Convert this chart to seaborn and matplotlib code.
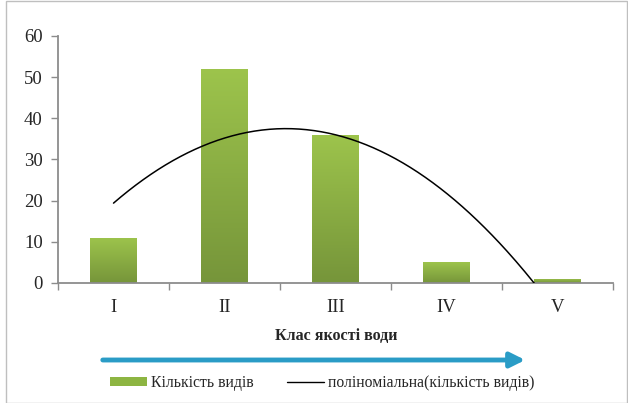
import numpy as np
import pandas as pd
import matplotlib
matplotlib.use("Agg")
import matplotlib.pyplot as plt
from matplotlib.lines import Line2D
from matplotlib.patches import Patch, Rectangle, FancyArrowPatch
from matplotlib.colors import LinearSegmentedColormap
import seaborn as sns

# Data
classes = ["I", "II", "III", "IV", "V"]
species_count = [11, 52, 36, 5, 1]

df = pd.DataFrame({"class": classes, "count": species_count})

sns.set_style("white")
plt.rcParams["font.family"] = ["Liberation Serif", "DejaVu Serif"]

fig = plt.figure(figsize=(6.28, 4.03), dpi=100)
ax = fig.add_axes([0.0924, 0.2978, 0.8836, 0.6129])

sns.barplot(data=df, x="class", y="count", color="#8db542", width=0.42,
            saturation=1, ax=ax)

# gradient fill clipped to each bar
green = LinearSegmentedColormap.from_list("g", ["#76953a", "#9dc44c"])
grad = np.linspace(0, 1, 256).reshape(-1, 1)
for bar in ax.patches:
    x0, y0 = bar.get_x(), bar.get_y()
    w, h = bar.get_width(), bar.get_height()
    im = ax.imshow(grad, cmap=green, origin="lower", aspect="auto",
                   extent=[x0, x0 + w, y0, y0 + h], zorder=2)
    im.set_clip_path(bar)
    bar.set_edgecolor("none")

# polynomial (2nd order) trendline
idx = np.arange(len(classes))
coef = np.polyfit(idx, species_count, 2)
xs = np.linspace(0, len(classes) - 1, 300)
ys = np.polyval(coef, xs)
ax.plot(xs, ys, color="black", lw=1.1, zorder=3)

ax.set_xlim(-0.5, len(classes) - 0.5)
ax.set_ylim(0, 60)
ax.set_yticks(range(0, 61, 10))
ax.set_xlabel("")
ax.set_ylabel("")

for s in ["top", "right"]:
    ax.spines[s].set_visible(False)
for s in ["left", "bottom"]:
    ax.spines[s].set_color("#8c8c8c")
    ax.spines[s].set_linewidth(1.3)

ax.tick_params(axis="y", which="both", left=True, length=5, color="#8c8c8c",
               width=1, labelsize=13.5, pad=6)
ax.tick_params(axis="x", bottom=False, labelsize=13.5, pad=8)
ax.set_xticks(np.arange(len(classes) + 1) - 0.5, minor=True)
ax.tick_params(axis="x", which="minor", bottom=True, length=5,
               color="#8c8c8c", width=1)

fig.text(0.535, 0.166, "Клас якості води", ha="center", va="center",
         fontsize=11.5, fontweight="bold")

arrow = FancyArrowPatch((100 / 628, 1 - 360 / 403), (528 / 628, 1 - 360 / 403),
                        transform=fig.transFigure, arrowstyle="-|>",
                        mutation_scale=22, color="#2a9cc6", lw=3.5)
fig.patches.append(arrow)

handles = [Patch(facecolor="#8db542", edgecolor="none"),
           Line2D([0], [0], color="black", lw=1)]
labels = ["Кількість видів", "поліноміальна(кількість видів)"]
fig.legend(handles, labels, loc="center", bbox_to_anchor=(0.513, 0.05),
           ncol=2, frameon=False, fontsize=11.3, handlelength=2.4,
           handleheight=0.5, handletextpad=0.25, columnspacing=2.1)

border = Rectangle((6 / 628, 0), 1 - 7 / 628, 1 - 1 / 403,
                   transform=fig.transFigure, fill=False,
                   edgecolor="#bfbfbf", lw=1)
fig.patches.append(border)

fig.savefig("out.png", dpi=100)
